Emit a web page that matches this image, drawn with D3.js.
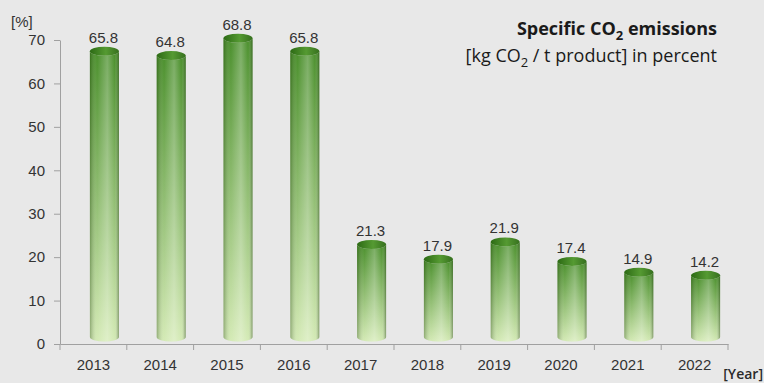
<!DOCTYPE html>
<html>
<head>
<meta charset="utf-8">
<script src="https://cdn.jsdelivr.net/npm/d3@7"></script>
<style>
  html, body { margin: 0; padding: 0; background: #e8e8e8; }
  svg { display: block; }
</style>
</head>
<body>
<svg id="chart" width="764" height="383"></svg>
<script>
// Specific CO2 emissions per year, kg CO2 / t product, in percent
const years = ["2013", "2014", "2015", "2016", "2017", "2018", "2019", "2020", "2021", "2022"];
const emissions = [65.8, 64.8, 68.8, 65.8, 21.3, 17.9, 21.9, 17.4, 14.9, 14.2];
const yTicks = [0, 10, 20, 30, 40, 50, 60, 70];

const svg = d3.select("#chart");
const W = 764, H = 383;
svg.append("rect").attr("width", W).attr("height", H).attr("fill", "#e8e8e8");

const x = d3.scaleBand().domain(years).range([60, 728]).padding(0);
const y = d3.scaleLinear().domain([0, 70]).range([344, 40]);

// cylinder geometry (3D depth pushes each bar up and to the right)
const barW = 29, rx = barW / 2, ry = 4.5, depthX = 11, depthY = -7;

const defs = svg.append("defs");
const body = defs.append("linearGradient").attr("id", "bodyV")
  .attr("x1", 0).attr("y1", 0).attr("x2", 0).attr("y2", 1);
body.append("stop").attr("offset", "0%").attr("stop-color", "#428a22");
body.append("stop").attr("offset", "100%").attr("stop-color", "#d2e9b2");

const shade = defs.append("linearGradient").attr("id", "shadeH")
  .attr("x1", 0).attr("y1", 0).attr("x2", 1).attr("y2", 0);
shade.append("stop").attr("offset", "0%").attr("stop-color", "#1d3d0a").attr("stop-opacity", 0.35);
shade.append("stop").attr("offset", "25%").attr("stop-color", "#ffffff").attr("stop-opacity", 0.05);
shade.append("stop").attr("offset", "60%").attr("stop-color", "#ffffff").attr("stop-opacity", 0.3);
shade.append("stop").attr("offset", "85%").attr("stop-color", "#ffffff").attr("stop-opacity", 0.05);
shade.append("stop").attr("offset", "100%").attr("stop-color", "#203a12").attr("stop-opacity", 0.45);

const cap = defs.append("linearGradient").attr("id", "capG")
  .attr("x1", 0).attr("y1", 0).attr("x2", 1).attr("y2", 0);
cap.append("stop").attr("offset", "0%").attr("stop-color", "#2c6a14");
cap.append("stop").attr("offset", "55%").attr("stop-color", "#559a32");
cap.append("stop").attr("offset", "100%").attr("stop-color", "#36701e");

// axes
const axisColor = "#a0a0a0";
const tickFont = "'Liberation Sans', Arial, sans-serif";
const gy = svg.append("g").attr("transform", "translate(60,0)")
  .call(d3.axisLeft(y).tickValues(yTicks).tickSize(6).tickSizeOuter(0).tickPadding(9));
const gx = svg.append("g").attr("transform", "translate(0,344)")
  .call(d3.axisBottom(x).tickSize(0).tickPadding(15));
// year boundary ticks
svg.append("g").selectAll("line")
  .data(years.map((d, i) => i).concat([years.length]))
  .join("line")
  .attr("x1", i => 60 + i * x.bandwidth())
  .attr("x2", i => 60 + i * x.bandwidth())
  .attr("y1", 344).attr("y2", 350)
  .attr("stroke", axisColor);

[gy, gx].forEach(g => {
  g.selectAll("path, line").attr("stroke", axisColor);
  g.selectAll("text")
    .attr("fill", "#333")
    .style("font-family", tickFont)
    .style("font-size", "15px");
});

// bars
const bars = svg.append("g").selectAll("g").data(years.map((yr, i) => ({ yr, v: emissions[i] })))
  .join("g");

bars.each(function (d) {
  const g = d3.select(this);
  const cx = x(d.yr) + x.bandwidth() / 2 + depthX;
  const top = y(d.v) + depthY;
  const bot = y(0) + depthY;
  const l = cx - rx, r = cx + rx;
  const path = `M${l},${top} L${l},${bot} A${rx},${ry} 0 0 0 ${r},${bot} L${r},${top} A${rx},${ry} 0 0 1 ${l},${top} Z`;
  g.append("path").attr("d", path).attr("fill", "url(#bodyV)");
  g.append("path").attr("d", path).attr("fill", "url(#shadeH)");
  g.append("ellipse").attr("cx", cx).attr("cy", top).attr("rx", rx).attr("ry", ry)
    .attr("fill", "url(#capG)");
  g.append("text")
    .attr("x", cx - 1).attr("y", top - ry - 4)
    .attr("text-anchor", "middle")
    .attr("fill", "#333")
    .style("font-family", tickFont)
    .style("font-size", "15px")
    .text(d.v.toFixed(1));
});

// unit labels
const titleFont = "'Open Sans', 'Noto Sans', sans-serif";
svg.append("text").attr("x", 11).attr("y", 27)
  .style("font-family", tickFont).style("font-size", "15px")
  .attr("fill", "#333").text("[%]");
svg.append("text").attr("x", 763).attr("y", 379).attr("text-anchor", "end")
  .style("font-family", titleFont).style("font-size", "14px").style("font-weight", "600")
  .attr("fill", "#2a2a2a").text("[Year]");

// title
const t1 = svg.append("text").attr("x", 717).attr("y", 35).attr("text-anchor", "end")
  .style("font-family", titleFont).style("font-size", "18px").style("font-weight", "bold")
  .attr("fill", "#1a1a1a");
t1.append("tspan").text("Specific CO");
t1.append("tspan").attr("dy", 5).style("font-size", "13px").text("2");
t1.append("tspan").attr("dy", -5).text(" emissions");

const t2 = svg.append("text").attr("x", 717).attr("y", 62).attr("text-anchor", "end")
  .style("font-family", titleFont).style("font-size", "18px")
  .attr("fill", "#1a1a1a");
t2.append("tspan").text("[kg CO");
t2.append("tspan").attr("dy", 5).style("font-size", "13px").text("2");
t2.append("tspan").attr("dy", -5).text(" / t product] in percent");
</script>
</body>
</html>
